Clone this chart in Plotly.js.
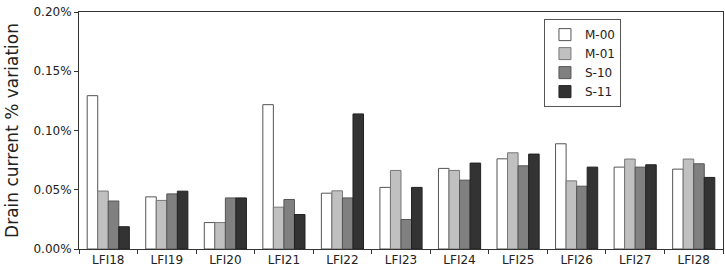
<!DOCTYPE html>
<html><head><meta charset="utf-8">
<script src="https://cdn.plot.ly/plotly-3.0.1.min.js"></script>
<style>html,body{margin:0;padding:0;background:#fff}</style>
</head><body><div id="chart" style="width:725px;height:272px"></div>
<script>
const categories = ["LFI18","LFI19","LFI20","LFI21","LFI22","LFI23","LFI24","LFI25","LFI26","LFI27","LFI28"];
const seriesNames = ["M-00","M-01","S-10","S-11"];
const m00 = [0.1294,0.0440,0.0223,0.1218,0.0471,0.0520,0.0680,0.0761,0.0888,0.0691,0.0674];
const m01 = [0.0489,0.0410,0.0223,0.0353,0.0491,0.0663,0.0663,0.0812,0.0575,0.0759,0.0759];
const s10 = [0.0405,0.0465,0.0431,0.0418,0.0431,0.0249,0.0581,0.0702,0.0530,0.0691,0.0719];
const s11 = [0.0188,0.0488,0.0431,0.0291,0.1140,0.0520,0.0725,0.0801,0.0691,0.0711,0.0604];
const colors = ["#ffffff","#c0c0c0","#808080","#333333"];
const lineColors = ["#555555","#777777","#555555","#222222"];
const values = [m00,m01,s10,s11];
const traces = values.map((v,i)=>({
  type:"bar", name:seriesNames[i], x:categories, y:v.map(a=>a/100),
  marker:{color:colors[i], line:{color:lineColors[i], width:1}}
}));
const layout = {
  width:725, height:272,
  margin:{l:79, r:2, t:12, b:23},
  paper_bgcolor:"#fff", plot_bgcolor:"#fff",
  barmode:"group", bargap:0.28, bargroupgap:0,
  font:{family:"DejaVu Sans", size:12, color:"#222"},
  xaxis:{showline:true, linecolor:"#333", linewidth:1, mirror:true,
    ticks:"outside", tickson:"boundaries", ticklen:4, tickcolor:"#333",
    showgrid:false, tickfont:{size:12}},
  yaxis:{range:[0,0.002], tickformat:".2%", dtick:0.0005, showline:true,
    linecolor:"#333", linewidth:1, mirror:true, ticks:"outside", ticklen:4,
    tickcolor:"#333", showgrid:false, zeroline:false, tickfont:{size:12},
    title:{text:"Drain current % variation", font:{size:17}, standoff:10}},
  legend:{x:0.722, y:0.97, xanchor:"left", yanchor:"top",
    bgcolor:"#fff", bordercolor:"#555", borderwidth:1,
    font:{size:12}, tracegroupgap:0, itemwidth:30},
  showlegend:true
};
Plotly.newPlot("chart", traces, layout, {displayModeBar:false, staticPlot:true});
</script></body></html>
